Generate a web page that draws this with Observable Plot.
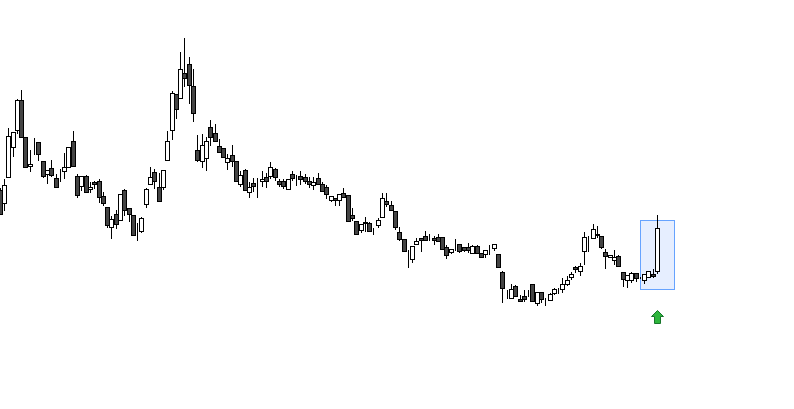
<!DOCTYPE html>
<html><head><meta charset="utf-8">
<style>html,body{margin:0;padding:0;background:#fff}svg{display:block}</style>
<script src="https://cdn.jsdelivr.net/npm/d3@7"></script>
<script src="https://cdn.jsdelivr.net/npm/@observablehq/plot@0.6"></script>
</head><body><div id="chart"></div>
<script>
const open_ = [219,206,232,262,279,309,272,243,266,267,248,235,241,231,233,238,242,268,233,223,233,220,227,228,213,202,182,195,189,219,201,194,173,178,205,225,237,222,222,249,279,315,311,336,345,323,259,248,251,282,276,263,261,247,254,248,225,239,217,226,223,228,232,233,240,228,228,220,235,229,233,232,228,224,231,225,222,209,211,209,216,214,194,188,179,187,186,180,184,192,208,204,198,177,170,157,150,165,171,173,169,171,172,172,162,157,163,165,162,162,156,163,156,155,160,161,155,137,112,111,123,110,113,116,125,106,117,109,109,116,118,120,125,132,142,138,158,172,171,175,173,157,152,149,153,137,129,129,136,131,129,132,135,138];
const high = [221,230,281,277,310,319,272,259,271,267,248,239,249,235,240,256,262,278,235,233,234,227,228,230,217,202,193,199,215,220,201,194,186,192,221,242,240,236,239,278,318,315,357,371,352,340,274,275,272,289,285,270,261,255,264,248,238,240,227,231,231,238,236,247,241,230,230,230,238,234,238,235,232,232,236,227,224,213,211,215,221,214,201,188,185,192,187,181,191,216,216,208,198,182,170,159,163,171,171,178,175,173,175,172,164,160,170,165,162,166,164,164,156,159,164,165,155,138,119,125,124,114,119,119,125,117,117,111,116,121,121,131,133,137,143,146,177,173,185,183,173,160,154,159,154,137,134,137,136,132,135,138,140,194];
const low = [195,198,231,252,275,271,242,237,254,248,231,225,232,222,227,230,241,243,211,218,216,216,220,206,203,181,170,180,189,193,187,174,168,176,201,225,220,207,219,249,269,290,311,322,305,287,247,241,238,263,268,256,251,239,242,227,222,218,211,217,211,222,221,230,228,222,220,220,228,223,224,225,221,219,224,217,210,207,203,203,211,188,188,175,176,177,177,174,181,192,202,198,179,168,158,141,146,165,157,168,168,164,167,160,150,155,158,156,157,156,156,155,151,151,154,158,142,106,110,110,112,107,107,112,108,103,106,103,108,114,115,116,123,129,136,133,144,157,170,171,160,140,152,144,142,122,121,126,127,130,125,131,131,135];
const close_ = [195,224,273,277,309,272,242,245,266,255,233,239,234,222,233,242,262,243,214,233,217,222,225,212,206,184,190,185,215,199,195,174,173,191,220,232,228,208,239,268,316,300,340,331,324,296,249,264,268,272,268,257,252,251,248,228,234,219,222,223,223,230,228,242,232,225,223,230,231,229,230,228,225,227,225,218,215,213,209,215,212,188,191,175,185,186,178,180,189,211,205,199,182,170,158,157,163,168,169,169,169,169,168,160,154,160,163,158,159,159,163,156,152,159,160,165,142,121,112,120,113,108,110,116,108,117,110,109,115,120,118,125,129,135,140,143,172,172,180,174,162,153,154,152,143,130,134,136,131,131,135,138,133,181];
const firstIndex = 1;
const candles = close_.map((c, k) => ({n: firstIndex + k, open: open_[k], high: high[k], low: low[k], close: c}));
const highlight = [{from: 150, to: 158, top: 189, bottom: 120}];
const signal = [{n: 154, price: 92}];
const upArrow = {draw(ctx) {
  ctx.moveTo(0,-7); ctx.lineTo(6,-1); ctx.lineTo(3,-1); ctx.lineTo(3,6);
  ctx.lineTo(-3,6); ctx.lineTo(-3,-1); ctx.lineTo(-6,-1); ctx.closePath();
}};
const plot = Plot.plot({
  width: 794, height: 409, margin: 0,
  x: {domain: [2, 154], range: [4, 657], round: true, axis: null},
  y: {domain: [0, 409], range: [409, 0], round: true, axis: null},
  marks: [
    Plot.rect(highlight, {x1: "from", x2: "to", y1: "bottom", y2: "top", fill: "#e6eeff", stroke: "#66a3ff", strokeWidth: 1, dx: .5, dy: .5}),
    Plot.ruleX(candles, {x: "n", y1: "low", y2: "high", stroke: "#000", strokeWidth: 1}),
    Plot.rect(candles, {x1: "n", x2: "n", y1: "open", y2: "close", insetLeft: -2, insetRight: -2,
      fill: d => d.close >= d.open ? "#fff" : "#444", stroke: "#000", strokeWidth: 1, dx: .5, dy: .5}),
    Plot.dot(signal, {x: "n", y: "price", symbol: upArrow, fill: "#2db53c", stroke: "#17752a", strokeWidth: 1})
  ]
});
document.getElementById("chart").append(plot);
</script></body></html>
